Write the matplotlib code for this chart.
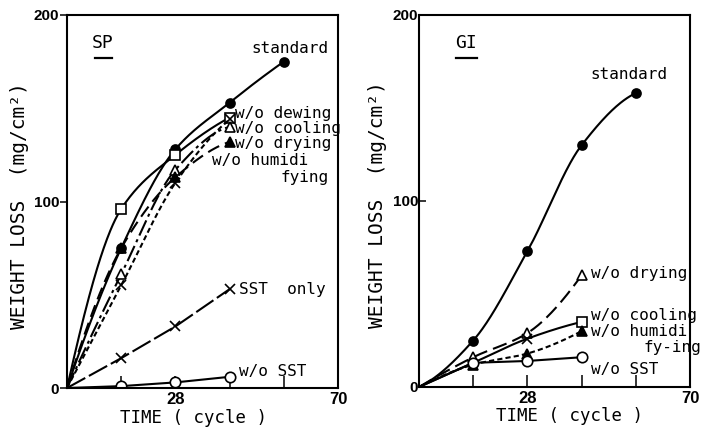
import matplotlib
matplotlib.use("Agg")
import matplotlib.pyplot as plt
import numpy as np

# cycles at which samples were weighed
cycles3 = [14, 28, 42]
cycles4 = [14, 28, 42, 56]

# SP panel (weight loss, mg/cm2)
sp_standard = [75, 128, 153, 175]
sp_dewing = [96, 125, 145]
sp_cooling = [61, 117, 140]
sp_drying = [75, 113, 132]
sp_humid = [55, 110, 144]
sp_sst_only = [16, 33, 53]
sp_no_sst = [1, 3, 6]

# GI panel
gi_standard = [25, 73, 130, 158]
gi_drying = [16, 29, 60]
gi_cooling = [13, 26, 35]
gi_humid = [12, 18, 30]
gi_no_sst = [13, 14, 16]

MONO = "DejaVu Sans Mono"
NUM = "Liberation Sans"


def pchip(x, y, xs):
    x = np.asarray(x, float)
    y = np.asarray(y, float)
    h = np.diff(x)
    d = np.diff(y) / h
    n = len(x)
    m = np.zeros(n)
    for k in range(1, n - 1):
        if d[k - 1] * d[k] > 0:
            w1 = 2 * h[k] + h[k - 1]
            w2 = h[k] + 2 * h[k - 1]
            m[k] = (w1 + w2) / (w1 / d[k - 1] + w2 / d[k])
    def end(h0, h1, d0, d1):
        v = ((2 * h0 + h1) * d0 - h0 * d1) / (h0 + h1)
        if np.sign(v) != np.sign(d0):
            return 0.0
        if np.sign(d0) != np.sign(d1) and abs(v) > abs(3 * d0):
            return 3 * d0
        return v
    m[0] = end(h[0], h[1], d[0], d[1])
    m[-1] = end(h[-1], h[-2], d[-1], d[-2])
    idx = np.clip(np.searchsorted(x, xs) - 1, 0, n - 2)
    t = (xs - x[idx]) / h[idx]
    h00 = 2 * t**3 - 3 * t**2 + 1
    h10 = t**3 - 2 * t**2 + t
    h01 = -2 * t**3 + 3 * t**2
    h11 = t**3 - t**2
    return (h00 * y[idx] + h10 * h[idx] * m[idx]
            + h01 * y[idx + 1] + h11 * h[idx] * m[idx + 1])


def curve(ax, xs, ys, ls, marker, mfc, smooth=True, ms=6.5):
    x = np.r_[0, xs]
    y = np.r_[0, ys]
    if smooth:
        xx = np.linspace(0, x[-1], 200)
        yy = pchip(x, y, xx)
    else:
        xx, yy = x, y
    ax.plot(xx, yy, color="black", lw=1.5, linestyle=ls)
    if marker is not None:
        ax.plot(xs, ys, linestyle="none", marker=marker, ms=ms,
                mfc=mfc, mec="black", mew=1.2, color="black")


def setup(ax, left_ticks, xlab_x, ylab_x):
    ax.set_xlim(0, 70)
    ax.set_ylim(0, 200)
    ax.set_xticks([14, 28, 42, 56, 70])
    ax.set_xticklabels(["", "28", "", "", "70"], fontfamily=NUM,
                       fontweight="bold", fontsize=12)
    ax.set_yticks([0, 100, 200])
    ax.set_yticklabels(["0", "100", "200"], fontfamily=NUM,
                       fontweight="bold", fontsize=11)
    ax.tick_params(axis="x", direction="in", length=9, width=1.1, pad=3)
    ax.tick_params(axis="y", direction="out" if left_ticks else "in",
                   length=5, width=1.1, pad=0.5)
    for s in ax.spines.values():
        s.set_linewidth(1.5)
    ax.set_xlabel("TIME ( cycle )", fontfamily=MONO, fontsize=12.5)
    ax.set_ylabel("WEIGHT LOSS  (mg/cm²)", fontfamily=MONO, fontsize=14)
    ax.xaxis.set_label_coords(xlab_x, -0.055)
    ax.yaxis.set_label_coords(ylab_x, 0.49)


def label(ax, x, y, s, ha="left"):
    ax.text(x, y, s, fontfamily=MONO, fontsize=11.5, ha=ha, va="center")


fig = plt.figure(figsize=(7.02, 4.30), dpi=100)
ax1 = fig.add_axes([67 / 702, 1 - 388 / 430, 271 / 702, 373 / 430])
ax2 = fig.add_axes([419 / 702, 1 - 387 / 430, 271 / 702, 372 / 430])

# ---- SP ----
curve(ax1, cycles4, sp_standard, "-", "o", "black")
curve(ax1, cycles3, sp_dewing, "-", "s", "white")
curve(ax1, cycles3, sp_cooling, (0, (8, 2, 1.5, 2)), "^", "white")
curve(ax1, cycles3, sp_drying, (0, (6, 3)), "^", "black")
curve(ax1, cycles3, sp_humid, (0, (2.5, 1.5)), "x", "none")
curve(ax1, cycles3, sp_sst_only, (0, (10, 2)), "x", "none", smooth=False)
curve(ax1, cycles3, sp_no_sst, "-", "o", "white", smooth=False, ms=7.5)

setup(ax1, True, 0.465, -0.14)
ax1.text(9.3, 185, "SP", fontfamily=MONO, fontsize=13, ha="center",
         va="center")
ax1.plot([0.105, 0.165], [0.885, 0.885], transform=ax1.transAxes,
         color="black", lw=1.6)
label(ax1, 57.5, 182, "standard", ha="center")
label(ax1, 43.5, 147, "w/o dewing")
label(ax1, 43.5, 139, "w/o cooling")
label(ax1, 43.5, 131, "w/o drying")
label(ax1, 37.5, 122, "w/o humidi")
label(ax1, 67.5, 113, "fying", ha="right")
label(ax1, 44.5, 53, "SST  only")
label(ax1, 44.5, 9, "w/o SST")

# ---- GI ----
curve(ax2, cycles4, gi_standard, "-", "o", "black")
curve(ax2, cycles3, gi_drying, (0, (7, 3)), "^", "white")
curve(ax2, cycles3, gi_cooling, "-", None, "white")
ax2.plot(cycles3[1], gi_cooling[1], marker="x", ms=6.5, color="black",
         mew=1.2, linestyle="none")
ax2.plot(cycles3[2], gi_cooling[2], marker="s", ms=6.5, mfc="white",
         mec="black", mew=1.2, linestyle="none")
curve(ax2, cycles3, gi_humid, (0, (2.5, 1.5)), "^", "black")
curve(ax2, cycles3, gi_no_sst, "-", "o", "white", smooth=False, ms=7.5)

setup(ax2, False, 0.557, -0.118)
ax2.text(12.2, 185, "GI", fontfamily=MONO, fontsize=13, ha="center",
         va="center")
ax2.plot([0.135, 0.215], [0.885, 0.885], transform=ax2.transAxes,
         color="black", lw=1.6)
label(ax2, 54.3, 168, "standard", ha="center")
label(ax2, 44.3, 61, "w/o drying")
label(ax2, 44.5, 38.5, "w/o cooling")
label(ax2, 44.5, 30, "w/o humidi")
label(ax2, 73, 21, "fy-ing", ha="right")
label(ax2, 44.5, 9.5, "w/o SST")

for ax in (ax1, ax2):
    for t in ax.texts:
        t.set_clip_on(False)

fig.savefig("out.png", dpi=100)
